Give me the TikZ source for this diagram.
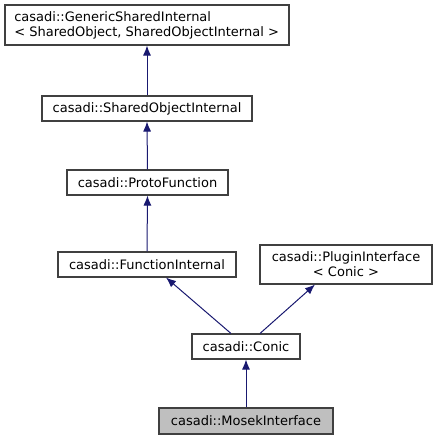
\documentclass[tikz,border=0pt]{standalone}
\usepackage{fontspec}
\setmainfont{DejaVu Sans}
\usetikzlibrary{arrows.meta}
\definecolor{edgeblue}{RGB}{25,25,112}
\definecolor{boxgrey}{RGB}{64,64,64}
\definecolor{selgrey}{RGB}{191,191,191}
\begin{document}
\begin{tikzpicture}[x=0.75pt,y=-0.75pt,
  cls/.style={draw=boxgrey,fill=white,line width=0.8pt,inner sep=0pt,font=\fontsize{9.75}{11.25}\selectfont},
  sel/.style={cls,fill=selgrey},
  inherit/.style={draw=edgeblue,line width=0.75pt,-{Latex[length=7.5pt,width=6pt]}}]
\useasboundingbox (0,0) rectangle (437,440);
\node [cls,minimum width=213pt,minimum height=30pt,align=left] (gsi) at (147,25)
  {casadi::GenericSharedInternal\\{<} SharedObject, SharedObjectInternal {>}\hspace*{0.6pt}};
\node [cls,minimum width=157.5pt,minimum height=18.75pt] (soi) at (147,108.5) {casadi::SharedObjectInternal};
\node [cls,minimum width=120.75pt,minimum height=18.75pt] (proto) at (147.5,182.5) {casadi::ProtoFunction};
\node [cls,minimum width=133.5pt,minimum height=18.75pt] (fint) at (147,264.5) {casadi::FunctionInternal};
\node [cls,minimum width=129pt,minimum height=29.25pt,align=center] (plug) at (346,264.5) {casadi::PluginInterface\\{<} Conic {>}};
\node [cls,minimum width=81pt,minimum height=18.75pt] (conic) at (246,346.5) {casadi::Conic};
\node [sel,minimum width=130.5pt,minimum height=19.5pt] (mosek) at (246,421) {casadi::MosekInterface};
% inheritance arrows
\draw [inherit] (soi.north) -- (gsi.south);
\draw [inherit] (proto.north) -- (soi.south);
\draw [inherit] (fint.north) -- (proto.south);
\draw [inherit] ([xshift=-11.25pt]conic.north) -- ([xshift=14.25pt]fint.south);
\draw [inherit] ([xshift=10.5pt]conic.north) -- ([xshift=-23.25pt]plug.south);
\draw [inherit] (mosek.north) -- (conic.south);
\end{tikzpicture}
\end{document}
